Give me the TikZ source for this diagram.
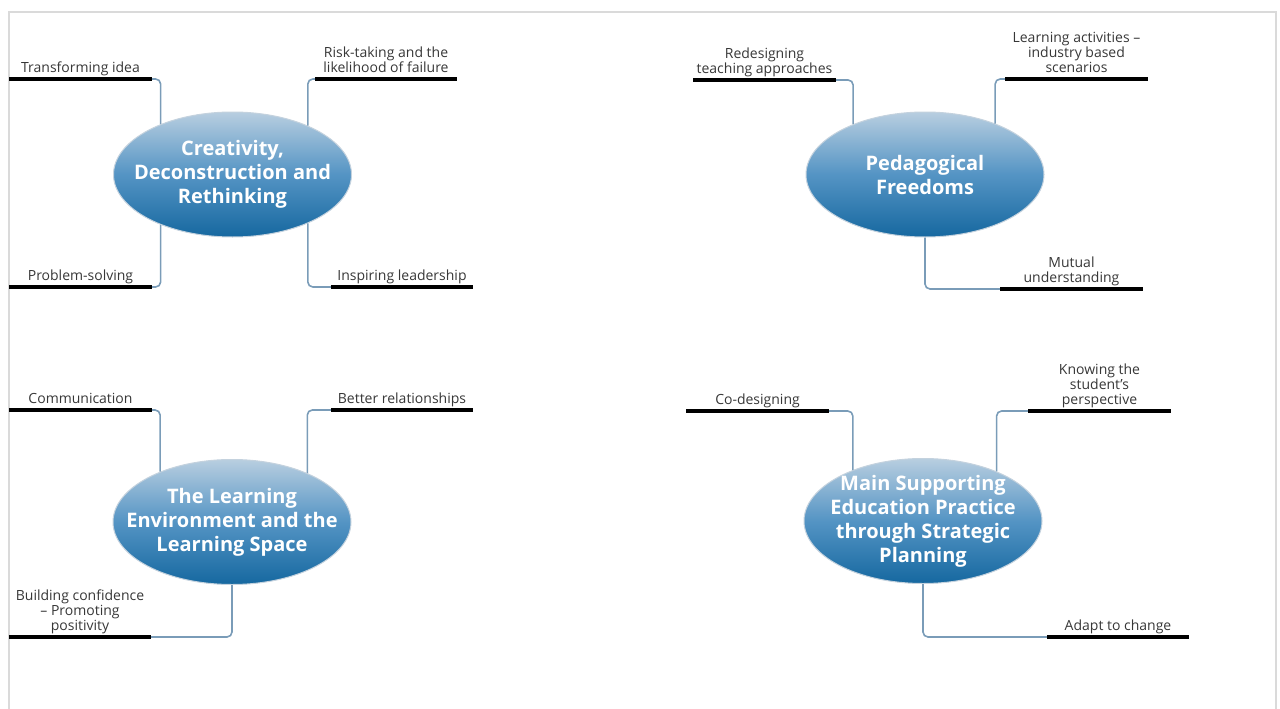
\documentclass[tikz,border=0pt]{standalone}
\usepackage{fontspec}
\setmainfont{Open Sans}
\usepackage{xcolor}
\usepackage{tikz}
\usetikzlibrary{shapes.geometric, positioning, calc}
\definecolor{steel}{RGB}{122,156,184}
\definecolor{inkgray}{RGB}{55,55,55}
\definecolor{framegray}{RGB}{218,218,218}
\definecolor{hubtop}{RGB}{184,206,224}
\definecolor{hubmid}{RGB}{84,148,196}
\definecolor{hubbot}{RGB}{22,104,160}
\definecolor{hubrim}{RGB}{196,210,222}

\begin{document}
\begin{tikzpicture}[x=1pt, y=-1pt]
  \tikzstyle{hub} = [ellipse, draw=hubrim, line width=1pt, top color=hubtop, bottom color=hubbot, middle color=hubmid, minimum width=238pt, minimum height=125pt, inner sep=0pt]
  \tikzstyle{hubtext} = [align=center, text=white, font=\fontsize{20}{24}\selectfont\bfseries]
  \tikzstyle{leaf} = [align=center, minimum width=142pt, inner xsep=0pt, inner ysep=2pt, anchor=south, text=inkgray, font=\fontsize{14}{15}\selectfont, execute at end node=\strut]
  \tikzstyle{bar} = [line width=3.2pt, black]
  \tikzstyle{link} = [line width=1.6pt, steel, rounded corners=5pt]

  \useasboundingbox (0,0) rectangle (1280,709);
  \draw[framegray, line width=1.5pt] (9,709) |- (1276,12) -- (1276,709);

  % hubs
  \node [hub] (hub1) at (232.5,174.5) {};
  \node [hub] (hub2) at (925,174.5) {};
  \node [hub] (hub3) at (232,522) {};
  \node [hub] (hub4) at (923,521) {};

  \node [hubtext] (cap1) at (hub1) {Creativity,\\Deconstruction and\\Rethinking};
  \node [hubtext] (cap2) at (hub2) {Pedagogical\\Freedoms};
  \node [hubtext] (cap3) at (hub3) {The Learning\\Environment and the\\Learning Space};
  \node [hubtext] (cap4) at (hub4) {Main Supporting\\Education Practice\\through Strategic\\Planning};

  % leaves
  \node [leaf] (t1) at (80.5,79) {Transforming idea};
  \node [leaf] (t2) at (386,79) {Risk-taking and the\\likelihood of failure};
  \node [leaf] (t3) at (80.5,287) {Problem-solving};
  \node [leaf] (t4) at (402,287) {Inspiring leadership};

  \node [leaf] (t5) at (764.5,80) {Redesigning\\teaching approaches};
  \node [leaf] (t6) at (1076.5,79) {Learning activities --\\industry based\\scenarios};
  \node [leaf] (t7) at (1071.5,289) {Mutual\\understanding};

  \node [leaf] (t8) at (80.5,410) {Communication};
  \node [leaf] (t9) at (402,410) {Better relationships};
  \node [leaf] (t10) at (80,637) {Building confidence\\-- Promoting\\positivity};

  \node [leaf] (t11) at (757.5,411) {Co-designing};
  \node [leaf] (t12) at (1099.5,411) {Knowing the\\student's\\perspective};
  \node [leaf] (t13) at (1118,637) {Adapt to change};

  % links
  \draw[link] (t1.south east) -| (hub1.145);
  \draw[link] (hub1.33) |- (t2.south west);
  \draw[link] (t3.south east) -| (hub1.215);
  \draw[link] (hub1.327) |- (t4.south west);

  \draw[link] (t5.south east) -| (hub2.145);
  \draw[link] (hub2.36) |- (t6.south west);
  \draw[link] (hub2.south) |- (t7.south west);

  \draw[link] (t8.south east) -| (hub3.145);
  \draw[link] (hub3.33) |- (t9.south west);
  \draw[link] (hub3.south) |- (t10.south east);

  \draw[link] (t11.south east) -| (hub4.144);
  \draw[link] (hub4.34) |- (t12.south west);
  \draw[link] (hub4.south) |- (t13.south west);

  % bars
  \foreach \n in {t1,t2,t3,t4,t5,t6,t7,t8,t9,t10,t11,t12,t13}
    \draw[bar] (\n.south west) -- (\n.south east);
\end{tikzpicture}
\end{document}
